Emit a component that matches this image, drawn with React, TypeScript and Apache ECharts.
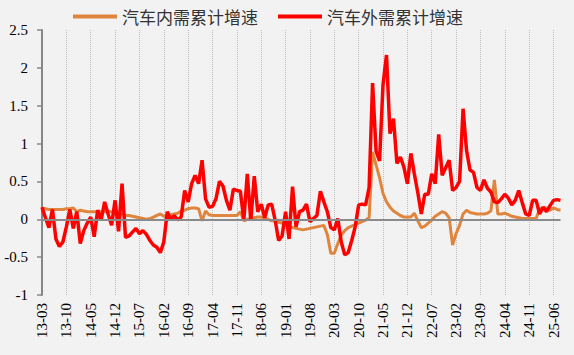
import React, { useEffect, useRef } from "react";
import * as echarts from "echarts";

const startYear = 2013;
const startMonth = 3;
const monthCount = 150;
const categories: string[] = [];
for (let k = 0; k < monthCount; k++) {
  const t = startMonth - 1 + k;
  const y = (startYear + Math.floor(t / 12)) % 100;
  const m = (t % 12) + 1;
  categories.push(`${String(y).padStart(2, "0")}-${String(m).padStart(2, "0")}`);
}

const seriesNames = ["汽车内需累计增速", "汽车外需累计增速"];

const domestic = [
  0.15, 0.14, 0.13, 0.13, 0.13, 0.13, 0.13, 0.14, 0.14, 0.15,
  0.1, 0.12, 0.11, 0.1, 0.1, 0.1, 0.1, 0.1, 0.1, 0.1,
  0.1, 0.1, 0.08, 0.06, 0.05, 0.05, 0.04, 0.03, 0.02, 0.01,
  0.0, 0.01, 0.03, 0.05, 0.07, 0.04, 0.05, 0.06, 0.07, 0.08,
  0.11, 0.12, 0.14, 0.15, 0.15, 0.14, -0.02, 0.11, 0.06, 0.05,
  0.05, 0.05, 0.05, 0.05, 0.05, 0.05, 0.05, 0.1, -0.02, 0.0,
  0.01, 0.02, 0.03, 0.03, 0.01, 0.0, -0.02, -0.02, -0.04, -0.05,
  -0.07, -0.09, -0.11, -0.12, -0.13, -0.14, -0.13, -0.12, -0.11, -0.1,
  -0.09, -0.08, -0.2, -0.45, -0.45, -0.32, -0.21, -0.15, -0.11, -0.09,
  -0.07, -0.05, -0.03, -0.01, 0.02, 0.89, 0.72, 0.55, 0.34, 0.23,
  0.16, 0.11, 0.08, 0.05, 0.03, 0.03, 0.03, 0.08, -0.02, -0.11,
  -0.09, -0.05, -0.01, 0.04, 0.07, 0.1, 0.08, 0.02, -0.34, -0.19,
  -0.08, 0.07, 0.12, 0.09, 0.08, 0.07, 0.07, 0.07, 0.08, 0.11,
  0.52, 0.07, 0.07, 0.08, 0.06, 0.04, 0.03, 0.02, 0.01, 0.01,
  0.01, 0.01, 0.01, 0.14, 0.15, 0.15, 0.12, 0.15, 0.13, 0.12,
];

const foreign = [
  0.16, 0.02, -0.11, 0.13, -0.26, -0.36, -0.3, -0.1, 0.13, -0.12,
  0.1, -0.32, -0.15, -0.05, 0.03, -0.23, 0.12, -0.01, 0.23, 0.07,
  -0.08, 0.25, -0.16, 0.47, -0.24, -0.22, -0.17, -0.12, -0.19, -0.15,
  -0.2, -0.28, -0.34, -0.37, -0.44, -0.3, 0.1, -0.01, 0.05, -0.01,
  0.03, 0.38, 0.23, 0.47, 0.58, 0.47, 0.78, 0.27, 0.16, 0.17,
  0.27, 0.5, 0.44, 0.25, 0.12, 0.4, 0.38, 0.37, -0.01, 0.6,
  -0.02, 0.57, 0.1, 0.2, 0.02, 0.19, 0.2, -0.01, -0.28, -0.22,
  0.1, -0.26, 0.43, -0.1, 0.1, 0.12, 0.2, -0.03, 0.01, 0.05,
  0.37, 0.23, 0.1, -0.11, -0.14, 0.01, -0.3, -0.47, -0.44, -0.28,
  -0.1, 0.19, 0.2, 0.19, 0.42, 1.8, 0.9, 0.77, 1.78, 2.17,
  1.13, 1.33, 0.74, 0.82, 0.69, 0.47, 0.87, 0.6, 0.35, 0.07,
  0.33, 0.33, 0.6, 0.47, 1.12, 0.58, 0.68, 0.78, 0.38, 0.42,
  0.5, 1.46, 0.91, 0.65, 0.62, 0.42, 0.38, 0.52, 0.41, 0.36,
  0.23, 0.22, 0.27, 0.33, 0.28, 0.19, 0.25, 0.38, 0.22, 0.07,
  0.05, 0.25, 0.25, 0.07, 0.16, 0.1, 0.18, 0.25, 0.26, 0.25,
];

const SERIF = "'Liberation Serif', serif";
const CJK = "'Noto Sans CJK SC', sans-serif";

export default function App() {
  const ref = useRef<HTMLDivElement>(null);
  useEffect(() => {
    document.body.style.margin = "0";
    document.body.style.background = "#f2f2f2";
    if (!ref.current) return;
    const chart = echarts.init(ref.current, null, { renderer: "svg" });
    chart.setOption({
      animation: false,
      backgroundColor: "#f2f2f2",
      textStyle: { fontFamily: SERIF },
      legend: {
        left: 68,
        top: 3,
        icon: "rect",
        itemWidth: 44,
        itemHeight: 4,
        itemGap: 20,
        textStyle: { fontFamily: CJK, fontSize: 17, color: "#333" },
        data: seriesNames,
      },
      grid: { left: 42, right: 13.5, top: 30, bottom: 60 },
      xAxis: {
        type: "category",
        data: categories,
        boundaryGap: false,
        axisLine: { show: false, onZero: false },
        axisTick: { show: false },
        axisLabel: {
          interval: 6,
          rotate: 90,
          margin: 8,
          fontFamily: SERIF,
          fontSize: 15,
          color: "#000",
        },
        splitLine: {
          show: true,
          interval: 6,
          lineStyle: { type: "dotted", color: "#bdbdbd", width: 1 },
        },
      },
      yAxis: {
        type: "value",
        min: -1,
        max: 2.5,
        interval: 0.5,
        axisLine: { show: true, lineStyle: { color: "#878787", width: 2 } },
        axisTick: { show: true, length: 5, lineStyle: { color: "#878787", width: 1.5 } },
        axisLabel: { margin: 14, fontFamily: SERIF, fontSize: 15, color: "#000" },
        splitLine: { show: false },
      },
      series: [
        {
          name: seriesNames[0],
          type: "line",
          data: domestic,
          showSymbol: false,
          symbol: "none",
          lineStyle: { color: "#df853d", width: 3 },
          itemStyle: { color: "#df853d" },
          markLine: {
            silent: true,
            symbol: "none",
            label: { show: false },
            lineStyle: { color: "#8a8a8a", width: 2, type: "solid" },
            data: [{ yAxis: 0 }],
          },
        },
        {
          name: seriesNames[1],
          type: "line",
          data: foreign,
          showSymbol: false,
          symbol: "none",
          lineStyle: { color: "#ff0000", width: 3.5 },
          itemStyle: { color: "#ff0000" },
        },
      ],
    });
    return () => chart.dispose();
  }, []);
  return <div ref={ref} style={{ width: 574, height: 355, background: "#f2f2f2" }} />;
}
